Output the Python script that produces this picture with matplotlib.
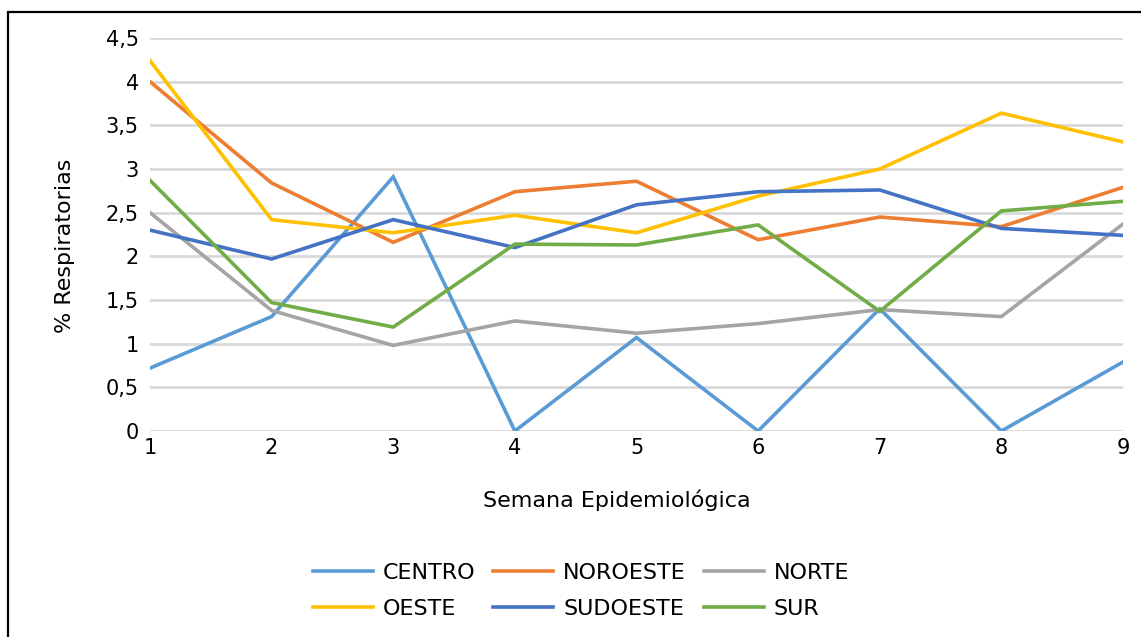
from matplotlib import pyplot as plt
from matplotlib.ticker import FuncFormatter, MultipleLocator
import matplotlib.patches as patches

plt.rc('font', family='DejaVu Sans', size=15)

semanas = [1, 2, 3, 4, 5, 6, 7, 8, 9]
centro = [0.72, 1.31, 2.91, 0.0, 1.07, 0.0, 1.40, 0.0, 0.79]
noroeste = [4.0, 2.84, 2.16, 2.74, 2.86, 2.19, 2.45, 2.34, 2.79]
norte = [2.50, 1.38, 0.98, 1.26, 1.12, 1.23, 1.39, 1.31, 2.37]
oeste = [4.24, 2.42, 2.27, 2.47, 2.27, 2.69, 3.00, 3.64, 3.31]
sudoeste = [2.30, 1.97, 2.42, 2.10, 2.59, 2.74, 2.76, 2.32, 2.24]
sur = [2.87, 1.47, 1.19, 2.14, 2.13, 2.36, 1.37, 2.52, 2.63]

series = [('CENTRO', centro, '#5B9BD5'),
          ('NOROESTE', noroeste, '#ED7D31'),
          ('NORTE', norte, '#A5A5A5'),
          ('OESTE', oeste, '#FFC000'),
          ('SUDOESTE', sudoeste, '#4472C4'),
          ('SUR', sur, '#70AD47')]

fig = plt.figure(figsize=(11.41, 6.37), dpi=100)
ax = fig.add_axes([150/1141, 1 - 431/637, (1123 - 150)/1141, (431 - 38)/637])

lines = {}
for name, vals, col in series:
    lines[name], = ax.plot(semanas, vals, color=col, linewidth=2.6, label=name,
                           solid_joinstyle='miter', zorder=3)

ax.set_xlim(1, 9)
ax.set_ylim(0, 4.5)
ax.yaxis.set_major_locator(MultipleLocator(0.5))
ax.yaxis.set_major_formatter(FuncFormatter(lambda v, p: '{:g}'.format(v).replace('.', ',')))
ax.set_xticks(semanas)
ax.grid(axis='y', color='#d9d9d9', linewidth=2)
ax.set_axisbelow(True)
for s in ax.spines.values():
    s.set_visible(False)
ax.tick_params(axis='both', length=0, colors='black')
ax.tick_params(axis='y', pad=8)
ax.tick_params(axis='x', pad=5)

ax.set_xlabel('Semana Epidemiológica', fontsize=16)
ax.set_ylabel('% Respiratorias', fontsize=16)
ax.xaxis.set_label_coords(0.48, -0.148)
ax.yaxis.set_label_coords(-0.0775, 0.471)

# legend filled row by row, like Excel
orden = ['CENTRO', 'OESTE', 'NOROESTE', 'SUDOESTE', 'NORTE', 'SUR']
fig.legend([lines[n] for n in orden], orden, loc='center',
           bbox_to_anchor=(581/1141, 1 - 591/637), ncol=3, frameon=False, fontsize=16,
           handlelength=2.7, handletextpad=0.45, columnspacing=0.8, labelspacing=0.72)

border = patches.Rectangle((8/1141, -0.01), 1.02, 1 - 12/637 + 0.01, transform=fig.transFigure,
                           fill=False, edgecolor='black', linewidth=1.6, clip_on=False)
fig.patches.append(border)

plt.savefig('out.png', dpi=100)
